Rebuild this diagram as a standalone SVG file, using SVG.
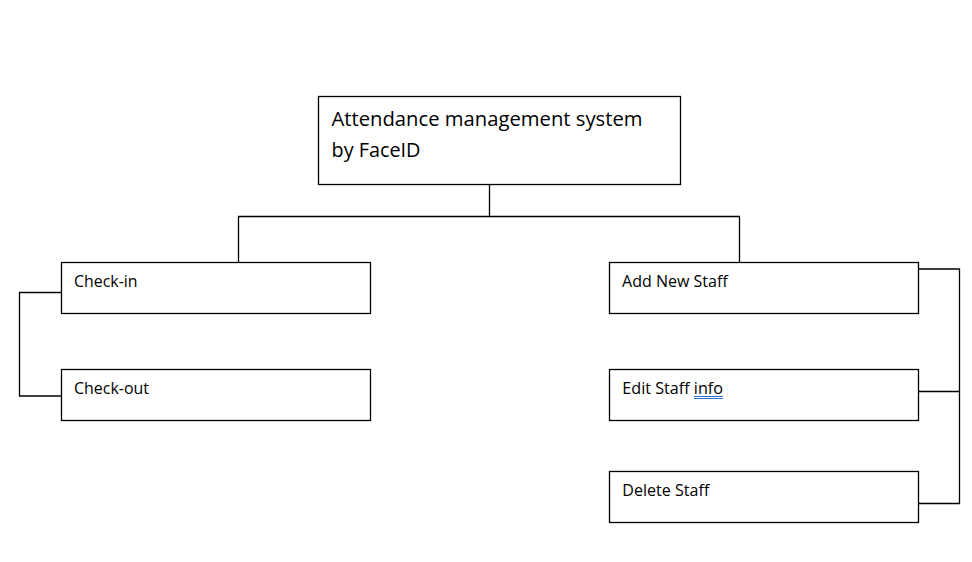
<svg xmlns="http://www.w3.org/2000/svg" width="972" height="562" viewBox="0 0 972 562">
<style>
.box{fill:#fff;stroke:#000;stroke-width:1.3}
.ln{fill:none;stroke:#000;stroke-width:1.3}
.t{font-family:"Open Sans","Liberation Sans",sans-serif;fill:#000}
.s{font-size:15.6px}
.b{font-size:20.3px}
.ul{stroke:#2f6fd6;stroke-width:1}
</style>
<rect width="972" height="562" fill="#fff"/>
<g id="connectors">
<path class="ln" d="M489.5 184V216.5M238.5 262V216.5H739.5V262"/>
<path class="ln" d="M61.5 292.5H19.5V396H61.5"/>
<path class="ln" d="M918.5 269H959.5V503.5H918.5M918.5 391.5H959.5"/>
</g>
<g id="root">
<rect class="box" x="318.5" y="96.5" width="362" height="88"/>
<text class="t b" x="331.5" y="126" textLength="311" lengthAdjust="spacingAndGlyphs">Attendance management system</text>
<text class="t b" x="331.5" y="157" textLength="89" lengthAdjust="spacingAndGlyphs">by FaceID</text>
</g>
<g id="checkin">
<rect class="box" x="61.5" y="262.5" width="309" height="51"/>
<text class="t s" x="74" y="286.5" textLength="63.5" lengthAdjust="spacingAndGlyphs">Check-in</text>
</g>
<g id="checkout">
<rect class="box" x="61.5" y="369.5" width="309" height="51"/>
<text class="t s" x="74" y="393.5" textLength="75" lengthAdjust="spacingAndGlyphs">Check-out</text>
</g>
<g id="addstaff">
<rect class="box" x="609.5" y="262.5" width="309" height="51"/>
<text class="t s" x="622" y="286.5" textLength="105.7" lengthAdjust="spacingAndGlyphs">Add New Staff</text>
</g>
<g id="editstaff">
<rect class="box" x="609.5" y="369.5" width="309" height="51"/>
<text class="t s" x="622.3" y="393.5" textLength="100.7" lengthAdjust="spacingAndGlyphs">Edit Staff info</text>
<path class="ul" d="M694 396.5H723M694 398.5H723"/>
</g>
<g id="deletestaff">
<rect class="box" x="609.5" y="471.5" width="309" height="51"/>
<text class="t s" x="622.3" y="495.5" textLength="87" lengthAdjust="spacingAndGlyphs">Delete Staff</text>
</g>
</svg>
